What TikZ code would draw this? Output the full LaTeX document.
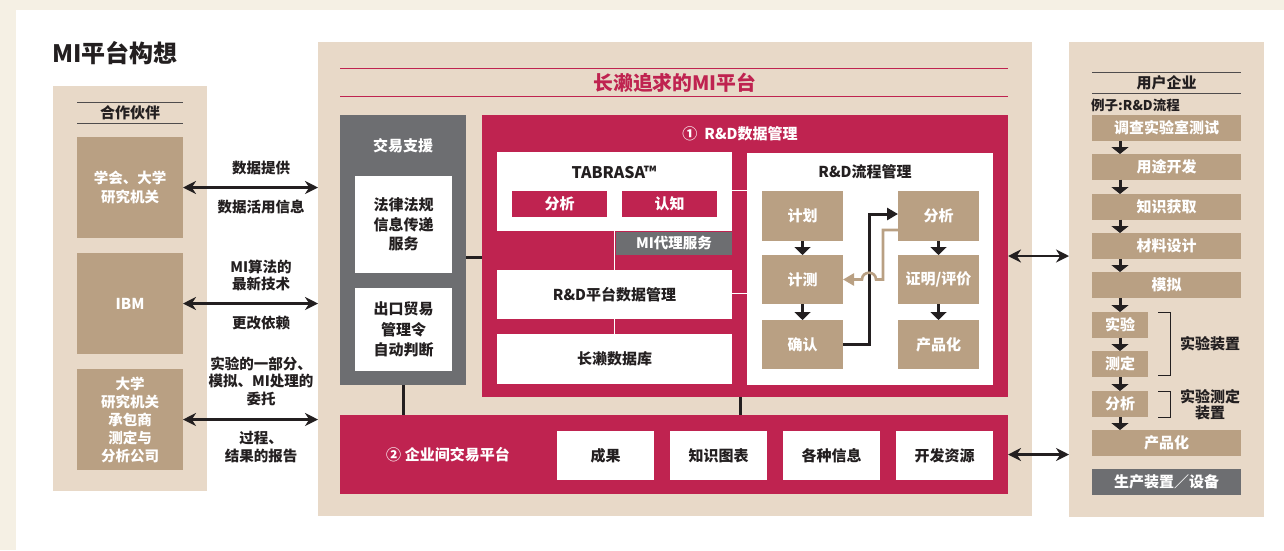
\documentclass[tikz,border=0pt]{standalone}
\usepackage{fontspec}
\setmainfont{Noto Sans CJK SC}
\usetikzlibrary{arrows.meta,calc}
\definecolor{cream}{HTML}{F5F0E4}
\definecolor{beige}{HTML}{E8D9C8}
\definecolor{tan}{HTML}{B9A083}
\definecolor{crim}{HTML}{BF2350}
\definecolor{slate}{HTML}{6D6E71}
\definecolor{dark}{HTML}{231F20}
\begin{document}
\begin{tikzpicture}[x=1pt,y=-1pt,
  font=\bfseries\fontsize{15}{18}\selectfont,
  box/.style={anchor=north west, inner sep=0pt, outer sep=0pt, align=center},
  panel/.style={box, fill=beige},
  tanbox/.style={box, fill=tan, text=white},
  whitebox/.style={box, fill=white, text=dark},
  crimbox/.style={box, fill=crim, text=white},
  graybox/.style={box, fill=slate, text=white},
  lbl/.style={align=center, text=dark, inner sep=0pt, font=\bfseries\fontsize{14.5}{17.5}\selectfont},
  hline/.style={draw=dark!80, line width=1.1pt},
  dbl/.style={draw=dark, line width=2.8pt, {Stealth[length=13pt,width=13pt]}-{Stealth[length=13pt,width=13pt]}},
  conn/.style={draw=dark, line width=3pt},
  downarr/.style={draw=dark, line width=3pt, -{Triangle[width=16pt,length=8pt]}},
  wl/.style={draw=white, line width=1.8pt},
  flowblack/.style={draw=dark, line width=3pt, -{Triangle[width=12pt,length=11pt]}},
  flowtan/.style={draw=tan, line width=2.6pt, -{Triangle[width=12pt,length=11pt]}}
]
\useasboundingbox (0,0) rectangle (1284,550);
\fill[cream] (0,0) rectangle (1284,550);
\fill[white] (16,10) rectangle (1284,550);

% title
\node[anchor=west, inner sep=0pt, text=dark, font=\bfseries\fontsize{24}{27}\selectfont] (title) at (52,53) {MI平台构想};

% ---------- left panel: partners ----------
\node[panel, minimum width=154pt, minimum height=405pt] (partners) at (53,86) {};
\node[box, minimum width=106pt, minimum height=21pt, text=dark] (phead) at (77,102.5) {合作伙伴};
\draw[hline] (phead.north west) -- (phead.north east);
\draw[hline] (phead.south west) -- (phead.south east);
\node[tanbox, minimum width=106pt, minimum height=101pt, font=\bfseries\fontsize{14.5}{18.5}\selectfont] (pb1) at (77,137) {学会、大学\\研究机关};
\node[tanbox, minimum width=106pt, minimum height=101pt] (pb2) at (77,253) {IBM};
\node[tanbox, minimum width=106pt, minimum height=101pt, font=\bfseries\fontsize{14.5}{18}\selectfont] (pb3) at (77,369) {大学\\研究机关\\承包商\\测定与\\分析公司};

% ---------- middle panel ----------
\node[panel, minimum width=714pt, minimum height=474pt] (mid) at (318,42) {};
\node[inner sep=0pt, text=crim, font=\bfseries\fontsize{19.8}{22}\selectfont] (midtitle) at (675,83) {长濑追求的MI平台};
\draw[crim, line width=1pt] (340,68.5) -- (1008,68.5);
\draw[crim, line width=1pt] (340,96.5) -- (1008,96.5);

% trade support
\node[graybox, minimum width=126pt, minimum height=270pt] (trade) at (340,115) {};
\node[inner sep=0pt, text=white] (tradetitle) at (403,146) {交易支援};
\node[whitebox, minimum width=97pt, minimum height=97pt, font=\bfseries\fontsize{15}{19.5}\selectfont] (law) at (355,176) {法律法规\\信息传递\\服务};
\node[whitebox, minimum width=97pt, minimum height=83pt, font=\bfseries\fontsize{15}{20.5}\selectfont] (export) at (355,288) {出口贸易\\管理令\\自动判断};

% R&D data management
\node[crimbox, minimum width=526pt, minimum height=282pt] (rd) at (482,115) {};
\node[inner sep=0pt, text=white] (rdtitle) at (740,134) {①\hspace{7pt}R\&D数据管理};
\node[whitebox, minimum width=235pt, minimum height=79pt] (tabrasa) at (497,152) {};
\node[inner sep=0pt, text=dark, font=\bfseries\fontsize{16}{19}\selectfont] (tabtitle) at (614,172) {TABRASA™};
\node[crimbox, minimum width=95pt, minimum height=26pt] (tabana) at (512,191) {分析};
\node[crimbox, minimum width=95pt, minimum height=26pt] (tabcog) at (622,191) {认知};
\node[graybox, minimum width=116pt, minimum height=23.5pt, font=\bfseries\fontsize{14.5}{17}\selectfont] (miagent) at (616,231.5) {MI代理服务};
\node[whitebox, minimum width=235pt, minimum height=49pt] (rdplat) at (497,270) {R\&D平台数据管理};
\node[whitebox, minimum width=235pt, minimum height=50pt] (db) at (497,334) {长濑数据库};
\draw[wl] (tabrasa.south) -- (rdplat.north);
\draw[wl] (rdplat.south) -- (db.north);

% R&D flow management
\node[whitebox, minimum width=246pt, minimum height=232pt] (rdflow) at (747,153) {};
\node[inner sep=0pt, text=dark] (flowtitle) at (865,172) {R\&D流程管理};
\draw[wl] ([yshift=1pt]tabrasa.east) -- ([yshift=1pt]tabrasa.east -| rdflow.west);
\draw[wl] ([yshift=1pt]rdplat.east) -- ([yshift=1pt]rdplat.east -| rdflow.west);
\node[tanbox, minimum width=81pt, minimum height=50pt] (plan) at (762,191) {计划};
\node[tanbox, minimum width=81pt, minimum height=49pt] (meas) at (762,255) {计测};
\node[tanbox, minimum width=81pt, minimum height=49pt] (conf) at (762,320) {确认};
\node[tanbox, minimum width=81pt, minimum height=50pt] (fana) at (898,191) {分析};
\node[tanbox, minimum width=81pt, minimum height=49pt] (prove) at (898,255) {证明/评价};
\node[tanbox, minimum width=81pt, minimum height=49pt] (prod) at (898,320) {产品化};
\draw[downarr] (plan.south) -- (meas.north);
\draw[downarr] (meas.south) -- (conf.north);
\draw[downarr] (fana.south) -- (prove.north);
\draw[downarr] (prove.south) -- (prod.north);
\coordinate (hopx) at (869,279.5);
\draw[flowblack] (conf.east) -- (conf.east -| hopx) |- ([yshift=2pt]fana.west);
\draw[flowtan] ([yshift=-14pt]fana.west) -- ++(-15,0) -- (883,279.5) -- (876,279.5)
   .. controls (876,270.5) and (862,270.5) .. (862,279.5) -- (meas.east);

% connector trade -> rd
\draw[conn] ([yshift=-7pt]trade.east) -- ([yshift=-7pt]trade.east -| rd.west);

% B2B platform
\node[crimbox, minimum width=668pt, minimum height=79pt] (b2b) at (340,415) {};
\node[inner sep=0pt, text=white] (b2btitle) at (448,455) {②\hspace{4pt}企业间交易平台};
\node[whitebox, minimum width=97pt, minimum height=49pt] (result) at (557,431) {成果};
\node[whitebox, minimum width=97pt, minimum height=49pt] (kgraph) at (670,431) {知识图表};
\node[whitebox, minimum width=97pt, minimum height=49pt] (info) at (783,431) {各种信息};
\node[whitebox, minimum width=97pt, minimum height=49pt] (devres) at (896,431) {开发资源};
\draw[conn] (trade.south) -- (trade.south |- b2b.north);
\draw[conn] ([xshift=-5pt]rd.south) -- ([xshift=-5pt]rd.south |- b2b.north);

% ---------- right panel: user company ----------
\node[panel, minimum width=195pt, minimum height=475pt] (user) at (1069,42) {};
\node[box, minimum width=149pt, minimum height=21pt, text=dark] (uhead) at (1092,72.5) {用户企业};
\draw[hline] (uhead.north west) -- (uhead.north east);
\draw[hline] (uhead.south west) -- (uhead.south east);
\node[anchor=west, inner sep=0pt, text=dark, font=\bfseries\fontsize{13.5}{16}\selectfont] (example) at (1091,105) {例子:R\&D流程};
\node[tanbox, minimum width=149pt, minimum height=26pt] (s1) at (1092,115) {调查实验室测试};
\node[tanbox, minimum width=149pt, minimum height=25.5pt] (s2) at (1092,154) {用途开发};
\node[tanbox, minimum width=149pt, minimum height=25.5pt] (s3) at (1092,194) {知识获取};
\node[tanbox, minimum width=149pt, minimum height=26pt] (s4) at (1092,233) {材料设计};
\node[tanbox, minimum width=149pt, minimum height=26pt] (s5) at (1092,272) {模拟};
\node[tanbox, minimum width=56pt, minimum height=26pt] (s6) at (1092,312) {实验};
\node[tanbox, minimum width=56pt, minimum height=26pt] (s7) at (1092,351) {测定};
\node[tanbox, minimum width=56pt, minimum height=26pt] (s8) at (1092,391) {分析};
\node[tanbox, minimum width=149pt, minimum height=26pt] (s9) at (1092,430) {产品化};
\node[graybox, minimum width=149pt, minimum height=26pt] (s10) at (1092,469) {生产装置／设备};
\foreach \a/\b in {s1/s2,s2/s3,s3/s4,s4/s5,s5/s6,s6/s7,s7/s8,s8/s9}{
  \draw[downarr, -{Triangle[width=17pt,length=7pt]}] ([xshift=28pt]\a.south west) -- ([xshift=28pt]\b.north west);
}
\draw[draw=dark, line width=1pt] ([xshift=10pt]s6.north east) -- ([xshift=22pt]s6.north east) -- ([xshift=22pt,yshift=2pt]s7.south east) -- ([xshift=10pt,yshift=2pt]s7.south east);
\draw[draw=dark, line width=1pt] ([xshift=10pt]s8.north east) -- ([xshift=22pt]s8.north east) -- ([xshift=22pt]s8.south east) -- ([xshift=10pt]s8.south east);
\node[lbl, font=\bfseries\fontsize{15}{17}\selectfont] (eqlab) at (1210,344) {实验装置};
\node[lbl, font=\bfseries\fontsize{15}{16.5}\selectfont] (measlab) at (1210,404.5) {实验测定\\装置};

% ---------- arrows ----------
\draw[dbl] (pb1.east) -- (pb1.east -| mid.west);
\draw[dbl] (pb2.east) -- (pb2.east -| mid.west);
\draw[dbl] (pb3.east) -- (pb3.east -| mid.west);
\draw[dbl] (rd.east) -- (rd.east -| user.west);
\draw[dbl] (b2b.east) -- (b2b.east -| user.west);

\node[lbl] (l1a) at (261,168) {数据提供};
\node[lbl] (l1b) at (261,207) {数据活用信息};
\node[lbl] (l2a) at (261,275.5) {MI算法的\\最新技术};
\node[lbl] (l2b) at (261,322.5) {更改依赖};
\node[lbl] (l3a) at (261,381) {实验的一部分、\\模拟、MI处理的\\委托};
\node[lbl] (l3b) at (261,447) {过程、\\结果的报告};
\end{tikzpicture}
\end{document}
